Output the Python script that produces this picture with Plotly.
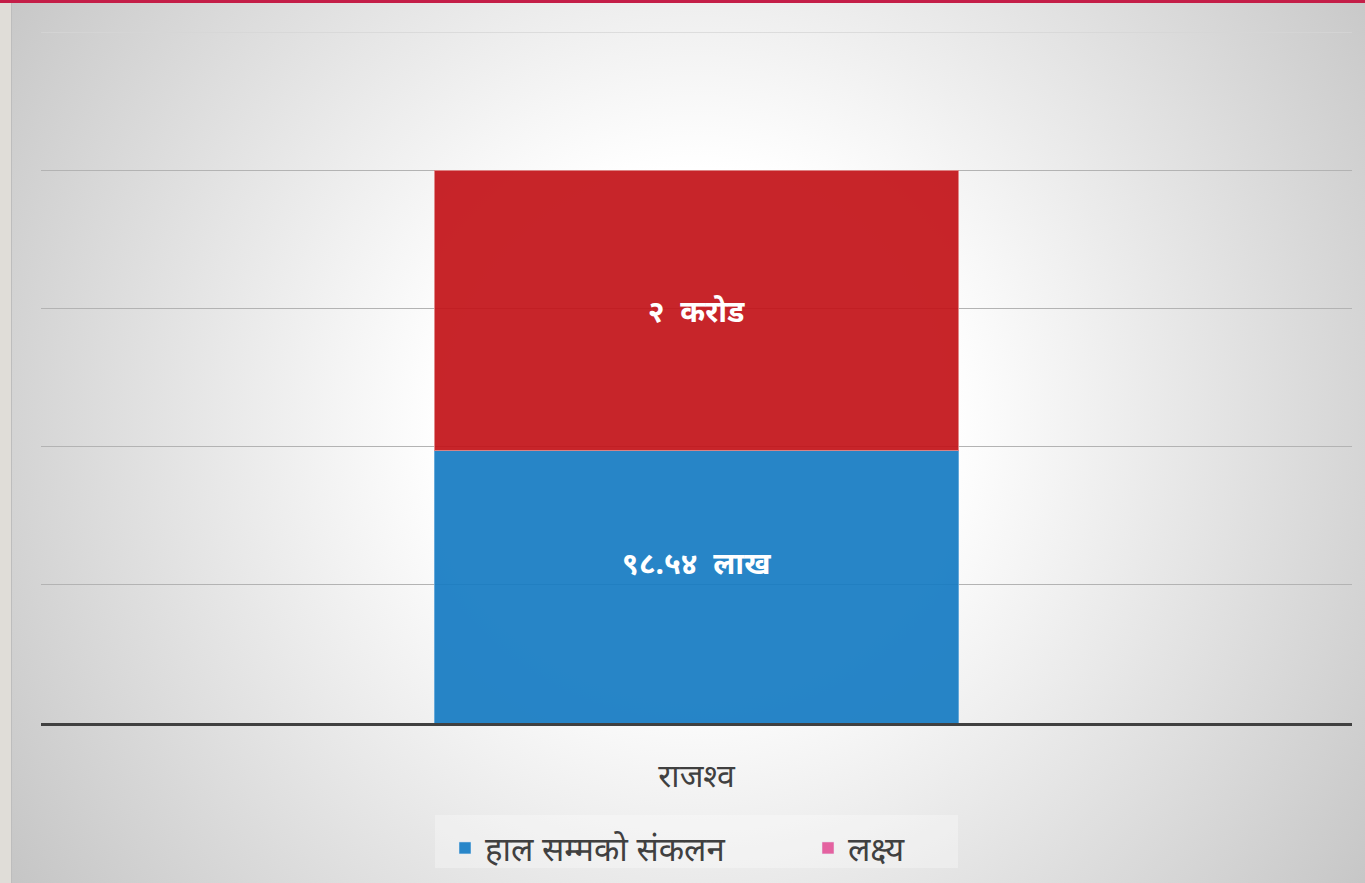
import base64
import plotly.graph_objects as go

# ---- data ----
categories = ["राजश्व"]
collected = [98.54]          # लाख  (हाल सम्मको संकलन)
target = [200.0]             # लाख  (लक्ष्य = २ करोड)
collected_labels = ["९८.५४\u00a0\u00a0लाख"]
target_labels = ["२\u00a0\u00a0करोड"]
series_names = ["हाल सम्मको संकलन", "लक्ष्य"]
grid_vals = [50, 100, 150, 200]

remaining = [t - c for t, c in zip(target, collected)]

W, H = 1365, 883
FONT = "Noto Sans, DejaVu Sans, sans-serif"

BLUE = "#157bc3"
RED = "#c31318"
BLUE_LEG = "#2886c9"
PINK = "#e462a0"

svg = f'''<svg xmlns="http://www.w3.org/2000/svg" width="{W}" height="{H}" viewBox="0 0 {W} {H}" preserveAspectRatio="none">
<defs><radialGradient id="g" gradientUnits="userSpaceOnUse" cx="696" cy="420" r="840">
<stop offset="0" stop-color="#ffffff"/><stop offset="0.3" stop-color="#ffffff"/>
<stop offset="1" stop-color="#c4c4c4"/></radialGradient></defs>
<rect x="0" y="0" width="{W}" height="{H}" fill="url(#g)"/></svg>'''
src = "data:image/svg+xml;base64," + base64.b64encode(svg.encode()).decode()

fig = go.Figure()
fig.add_trace(go.Bar(
    x=categories, y=collected, name=series_names[0], showlegend=False,
    marker=dict(color=BLUE, opacity=0.92, line=dict(color="#5aa3d8", width=1)),
    width=0.4, hoverinfo="skip"))
fig.add_trace(go.Bar(
    x=categories, y=remaining, name=series_names[1], showlegend=False,
    marker=dict(color=RED, opacity=0.92, line=dict(color="#e08080", width=1)),
    text=target_labels, textposition="inside", insidetextanchor="middle",
    textfont=dict(color="white", size=30, family=FONT, weight="bold"),
    width=0.4, hoverinfo="skip"))
# legend entries
fig.add_trace(go.Bar(x=[None], y=[None], name=series_names[0], marker=dict(color=BLUE_LEG)))
fig.add_trace(go.Bar(x=[None], y=[None], name=series_names[1], marker=dict(color=PINK)))

x0d, x1d = 41 / W, 1352 / W
y0d, y1d = (H - 723) / H, (H - 32) / H

fig.update_layout(
    width=W, height=H, barmode="stack",
    margin=dict(l=0, r=0, t=0, b=0),
    paper_bgcolor="#d0d0d0", plot_bgcolor="rgba(0,0,0,0)",
    font=dict(family=FONT, color="#404040"),
    xaxis=dict(domain=[x0d, x1d], range=[-0.5, 0.5], showgrid=False,
               showline=True, linewidth=3, linecolor="#404040",
               ticks="outside", ticklen=23, tickcolor="rgba(0,0,0,0)",
               tickfont=dict(size=32, color="#404040", family=FONT)),
    yaxis=dict(domain=[y0d, y1d], range=[0, 250], tickvals=grid_vals,
               showticklabels=False, showgrid=True, gridcolor="#b3b3b3",
               gridwidth=1.3, zeroline=False),
    legend=dict(orientation="h", x=445 / W, xanchor="left", y=(H - 848) / H,
                yanchor="middle", bgcolor="rgba(0,0,0,0)",
                font=dict(size=33, color="#404040", family=FONT),
                itemwidth=30, entrywidth=318, entrywidthmode="pixels",
                traceorder="normal"),
    annotations=[dict(x=categories[0], y=collected[0] * 0.59, xref="x", yref="y",
                      text=collected_labels[0], showarrow=False,
                      font=dict(color="white", size=30, family=FONT, weight="bold"))],
    images=[dict(source=src, xref="paper", yref="paper", x=0, y=1,
                 sizex=1, sizey=1, xanchor="left", yanchor="top",
                 sizing="stretch", layer="below")],
    shapes=[
        dict(type="line", xref="paper", yref="y", x0=x0d, x1=x1d, y0=250, y1=250,
             line=dict(color="#d6d6d6", width=1.5), layer="below"),
        dict(type="rect", xref="paper", yref="paper", x0=435 / W, x1=958 / W,
             y0=(H - 868) / H, y1=(H - 815) / H,
             fillcolor="rgba(255,255,255,0.3)", line=dict(width=0), layer="below"),
        dict(type="rect", xref="paper", yref="paper", x0=0, x1=11 / W, y0=0, y1=1,
             fillcolor="#e0ddd8", line=dict(width=0), layer="above"),
        dict(type="line", xref="paper", yref="paper", x0=11.5 / W, x1=11.5 / W, y0=0, y1=1,
             line=dict(color="#bdbdbd", width=1), layer="above"),
        dict(type="rect", xref="paper", yref="paper", x0=0, x1=1, y0=1 - 3 / H, y1=1,
             fillcolor="#c41e48", line=dict(width=0), layer="above"),
    ],
)

fig.write_html("out.html", config={"displayModeBar": False},
               post_script="document.body.style.margin='0';document.body.style.overflow='hidden';")
